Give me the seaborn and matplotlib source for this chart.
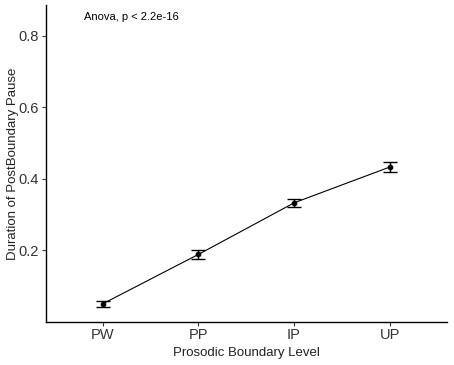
import matplotlib
matplotlib.use("Agg")
import matplotlib.pyplot as plt
import seaborn as sns
import pandas as pd
import numpy as np

levels = ["PW", "PP", "IP", "UP"]
means = [0.051, 0.189, 0.333, 0.433]
errs = [0.009, 0.012, 0.012, 0.015]

df = pd.DataFrame({"level": levels, "pause": means})

sns.set_style("white")
plt.rcParams['font.family'] = ['Liberation Sans', 'DejaVu Sans']

fig = plt.figure(figsize=(4.54, 3.65), dpi=100)
ax = fig.add_axes([45.5/454, 1-322/365, (447-45.5)/454, (322-5)/365])

ax.errorbar(range(len(levels)), means, yerr=errs, fmt="none", ecolor="black",
            elinewidth=1.0, capsize=5, capthick=1.0, zorder=2)
sns.pointplot(data=df, x="level", y="pause", order=levels, color="black",
              errorbar=None, markers="o", linestyles="-", markersize=3.5,
              linewidth=0.8, ax=ax, zorder=3)

ax.set_xlim(-0.6, 3.6)
ax.set_ylim(0.0, 0.886)
ax.set_yticks([0.2, 0.4, 0.6, 0.8])
ax.set_yticklabels(["0.2", "0.4", "0.6", "0.8"])

for s in ["top", "right"]:
    ax.spines[s].set_visible(False)
for s in ["left", "bottom"]:
    ax.spines[s].set_color("black")
    ax.spines[s].set_linewidth(1.0)

ax.tick_params(axis="both", direction="out", length=2.8, width=0.8,
               color="#333333", labelsize=10.5, labelcolor="#333333", pad=1.8,
               bottom=True, left=True)

ax.set_xlabel("Prosodic Boundary Level", fontsize=9.5, color="#222222", labelpad=3)
ax.set_ylabel("Duration of PostBoundary Pause", fontsize=9.5, color="#222222", labelpad=-0.5)

ax.text(-0.2, 0.852, "Anova, p < 2.2e-16", fontsize=8, color="black",
        ha="left", va="center")

fig.savefig("out.png", dpi=100)
